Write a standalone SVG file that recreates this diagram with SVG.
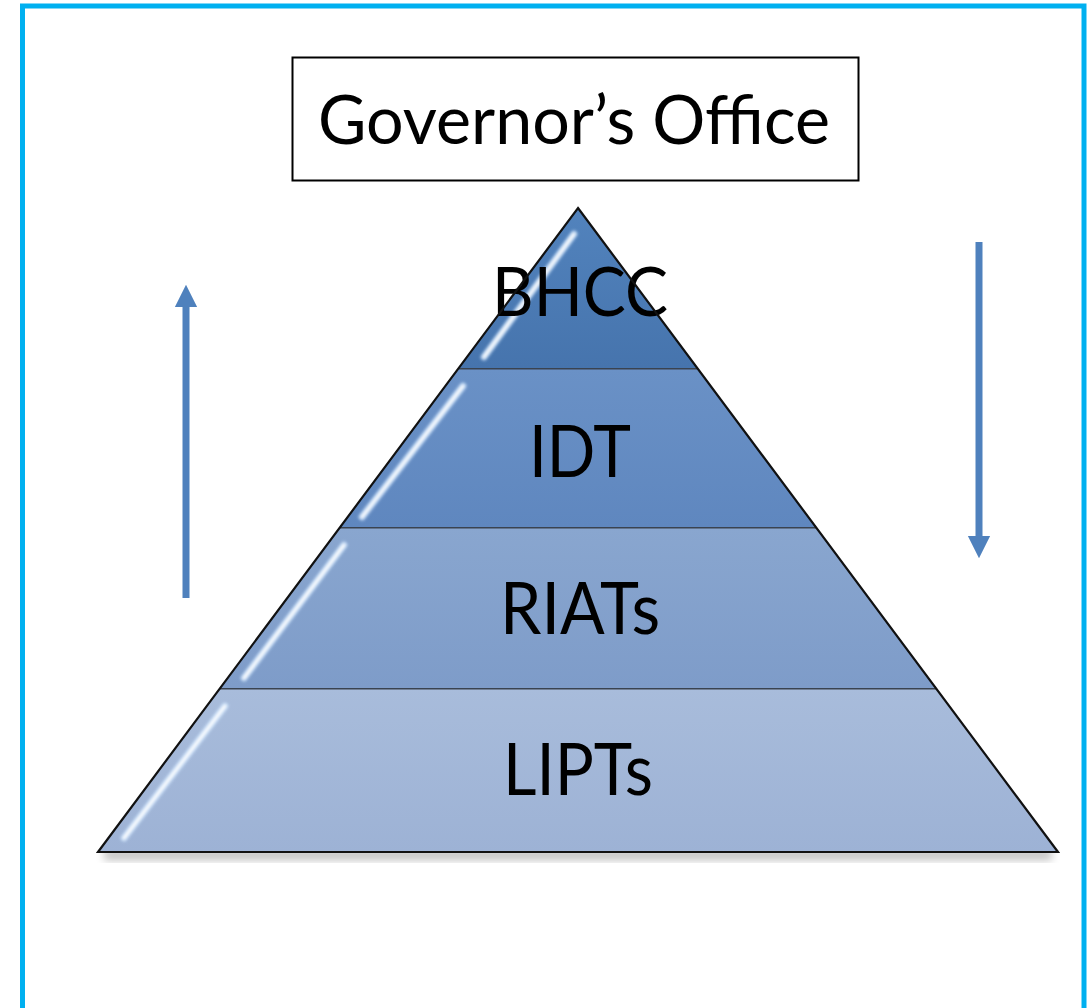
<svg xmlns="http://www.w3.org/2000/svg" width="1089" height="1008" viewBox="0 0 1089 1008">
<defs>
<style>
.lbl{font-family:Lato,"Open Sans","Liberation Sans",sans-serif;fill:#000;text-anchor:middle}
.tier{stroke:none}
.div{stroke:#3a4350;stroke-width:3}
.hlg{stroke:#cfe6ff;stroke-width:7;stroke-linecap:round;fill:none;opacity:0.7}
.hl{stroke:#ffffff;stroke-width:3;stroke-linecap:round;fill:none}
.arr{stroke:#4f81bd;stroke-width:7;fill:none}
</style>
<linearGradient id="g1" x1="0" y1="0" x2="0" y2="1"><stop offset="0" stop-color="#5283bd"/><stop offset="1" stop-color="#4674ad"/></linearGradient>
<linearGradient id="g2" x1="0" y1="0" x2="0" y2="1"><stop offset="0" stop-color="#6a91c6"/><stop offset="1" stop-color="#5f87bf"/></linearGradient>
<linearGradient id="g3" x1="0" y1="0" x2="0" y2="1"><stop offset="0" stop-color="#89a6cf"/><stop offset="1" stop-color="#7e9cc9"/></linearGradient>
<linearGradient id="g4" x1="0" y1="0" x2="0" y2="1"><stop offset="0" stop-color="#a8bcdb"/><stop offset="1" stop-color="#9db2d5"/></linearGradient>
<filter id="blur" x="-10%" y="-10%" width="120%" height="140%"><feGaussianBlur stdDeviation="4"/></filter>
<filter id="glow" x="-20%" y="-20%" width="140%" height="140%"><feGaussianBlur stdDeviation="1.5"/></filter>
<marker id="ah" viewBox="0 0 10 10" refX="5" refY="5" markerWidth="3.2" markerHeight="3.4" orient="auto" markerUnits="strokeWidth"><path d="M0,0 L10,5 L0,10 z" fill="#4f81bd"/></marker>
</defs>
<rect x="0" y="0" width="1089" height="1008" fill="#ffffff"/>
<rect id="frame" x="22.5" y="6" width="1061.5" height="1010" fill="none" stroke="#00b0f0" stroke-width="5"/>

<g id="governors-office">
<rect x="292.5" y="57.5" width="566" height="123" fill="#ffffff" stroke="#000" stroke-width="2"/>
<text class="lbl" x="574" y="144" font-size="68" textLength="512" lengthAdjust="spacingAndGlyphs">Governor’s Office</text>
</g>

<g id="pyramid-shadow">
<rect x="104" y="850" width="948" height="10" fill="#000" opacity="0.25" filter="url(#blur)"/>
</g>

<g id="tier-lipts">
<polygon class="tier" points="220,688 936,688 1058,852 98,852" fill="url(#g4)"/>
<line class="hlg" x1="225" y1="706" x2="124" y2="838" filter="url(#glow)"/>
<line class="hl" x1="225" y1="706" x2="124" y2="838" filter="url(#glow)"/>
<line class="div" x1="220" y1="688" x2="936" y2="688"/>
<text class="lbl" x="578" y="795" font-size="72" textLength="150" lengthAdjust="spacingAndGlyphs">LIPTs</text>
</g>

<g id="tier-riats">
<polygon class="tier" points="340,527 816,527 936,688 220,688" fill="url(#g3)"/>
<line class="hlg" x1="344" y1="545" x2="244" y2="678" filter="url(#glow)"/>
<line class="hl" x1="344" y1="545" x2="244" y2="678" filter="url(#glow)"/>
<line class="div" x1="340" y1="527" x2="816" y2="527"/>
<text class="lbl" x="580" y="634" font-size="72" textLength="160" lengthAdjust="spacingAndGlyphs">RIATs</text>
</g>

<g id="tier-idt">
<polygon class="tier" points="459,368 697,368 816,527 340,527" fill="url(#g2)"/>
<line class="hlg" x1="463" y1="386" x2="362" y2="517" filter="url(#glow)"/>
<line class="hl" x1="463" y1="386" x2="362" y2="517" filter="url(#glow)"/>
<line class="div" x1="459" y1="368" x2="697" y2="368"/>
<text class="lbl" x="580" y="477" font-size="72" textLength="102" lengthAdjust="spacingAndGlyphs">IDT</text>
</g>

<g id="tier-bhcc">
<polygon class="tier" points="578,208 697,368 459,368" fill="url(#g1)"/>
<line class="hlg" x1="574" y1="234" x2="484" y2="357" filter="url(#glow)"/>
<line class="hl" x1="574" y1="234" x2="484" y2="357" filter="url(#glow)"/>
<text class="lbl" x="580" y="316" font-size="68" textLength="176" lengthAdjust="spacingAndGlyphs">BHCC</text>
</g>

<g id="pyramid-outline">
<polygon points="578,208 1058,852 98,852" fill="none" stroke="#111" stroke-width="2.2" stroke-linejoin="miter"/>
</g>

<g id="connectors">
<line class="arr" x1="186" y1="598" x2="186" y2="296" marker-end="url(#ah)"/>
<line class="arr" x1="979" y1="242" x2="979" y2="547" marker-end="url(#ah)"/>
</g>
</svg>
